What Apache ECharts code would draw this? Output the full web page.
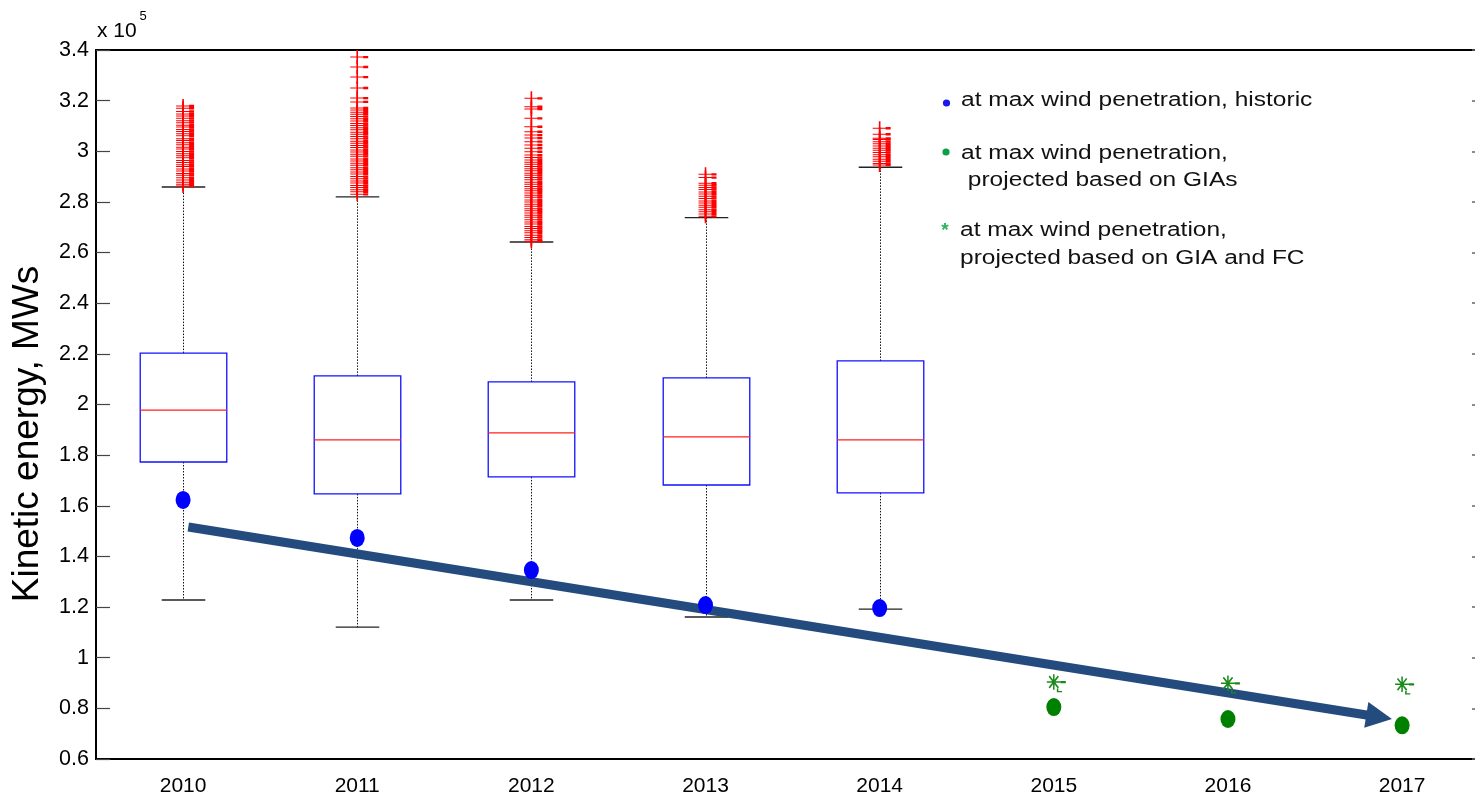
<!DOCTYPE html>
<html><head><meta charset="utf-8">
<script src="https://cdn.jsdelivr.net/npm/echarts@6/dist/echarts.min.js"></script>
<style>html,body{margin:0;padding:0;background:#fff}#chart{width:1475px;height:793px}</style>
</head><body><div id="chart"></div><script>
// ---- data (values in units of x10^5 MWs) ----
const years = [2010, 2011, 2012, 2013, 2014, 2015, 2016, 2017];
const yTicks = [0.6, 0.8, 1, 1.2, 1.4, 1.6, 1.8, 2, 2.2, 2.4, 2.6, 2.8, 3, 3.2, 3.4];

const boxYears  = [2010, 2011, 2012, 2013, 2014];
const boxMin    = [1.228, 1.121, 1.228, 1.161, 1.192];
const boxQ1     = [1.773, 1.647, 1.714, 1.682, 1.651];
const boxMedian = [1.978, 1.860, 1.888, 1.872, 1.860];
const boxQ3     = [2.203, 2.113, 2.089, 2.105, 2.172];
const boxMax    = [2.859, 2.820, 2.642, 2.738, 2.937];

const outliers2010 = [3.179, 3.170, 3.157, 3.147, 3.139, 3.130, 3.121, 3.113, 3.103, 3.096, 3.086, 3.078, 3.069, 3.061, 3.050, 3.043, 3.034, 3.026, 3.016, 3.009, 2.999, 2.990, 2.982, 2.974, 2.964, 2.956, 2.947, 2.940, 2.930, 2.922, 2.912, 2.905, 2.895, 2.887, 2.878, 2.870, 2.863];
const outliers2011 = [3.372, 3.333, 3.293, 3.250, 3.210, 3.195, 3.171, 3.163, 3.154, 3.146, 3.137, 3.128, 3.120, 3.110, 3.102, 3.093, 3.085, 3.075, 3.067, 3.058, 3.050, 3.040, 3.032, 3.023, 3.015, 3.005, 2.997, 2.988, 2.980, 2.970, 2.962, 2.953, 2.945, 2.935, 2.927, 2.918, 2.910, 2.900, 2.892, 2.883, 2.875, 2.865, 2.857, 2.848, 2.840, 2.830];
const outliers2012 = [3.209, 3.176, 3.167, 3.130, 3.097, 3.077, 3.064, 3.052, 3.038, 3.025, 3.012, 2.998, 2.985, 2.975, 2.966, 2.957, 2.949, 2.940, 2.931, 2.923, 2.913, 2.905, 2.896, 2.888, 2.878, 2.870, 2.861, 2.852, 2.844, 2.835, 2.826, 2.818, 2.808, 2.800, 2.791, 2.783, 2.773, 2.765, 2.756, 2.747, 2.739, 2.730, 2.721, 2.713, 2.703, 2.695, 2.686, 2.678, 2.668, 2.660, 2.651, 2.645];
const outliers2013 = [2.909, 2.896, 2.874, 2.866, 2.857, 2.849, 2.839, 2.831, 2.822, 2.814, 2.804, 2.796, 2.787, 2.779, 2.769, 2.761, 2.752, 2.743];
const outliers2014 = [3.091, 3.067, 3.051, 3.047, 3.038, 3.030, 3.021, 3.012, 3.004, 2.995, 2.986, 2.978, 2.969, 2.961, 2.952, 2.946];

const historicYears = [2010, 2011, 2012, 2013, 2014];
const historicValues = [1.623, 1.473, 1.346, 1.208, 1.196];
const projYears = [2015, 2016, 2017];
const projGIA = [0.805, 0.758, 0.733];
const projGIAFC = [0.904, 0.899, 0.895];

const arrowX = [2010.03, 2016.868];
const arrowY = [1.516, 0.766];

const legendTexts = [
  ['at max wind penetration, historic'],
  ['at max wind penetration,', ' projected based on GIAs'],
  ['at max wind penetration,', 'projected based on GIA and FC']
];
const yAxisTitle = 'Kinetic energy, MWs';

// ---- build ----
const FONT = '"Liberation Sans", Arial, Helvetica, sans-serif';
const boxData = boxYears.map((y, i) => [y, boxMin[i], boxQ1[i], boxMedian[i], boxQ3[i], boxMax[i]]);
const outlierSets = [outliers2010, outliers2011, outliers2012, outliers2013, outliers2014];
const outlierData = [];
outlierSets.forEach((arr, i) => arr.forEach(v => outlierData.push([boxYears[i], v])));

const plusPath = 'path://M0,6.5H14V7.5H0Z M6.2,0H7.8V14H6.2Z M13,5.8H18V8.2H13Z';
const starPath = 'path://M0,5.4H11V6.6H0Z M4.9,0H6.1V12H4.9Z M1.4,1.9L2.3,1.0L9.6,10.1L8.7,11.0Z M8.7,1.0L9.6,1.9L2.3,11.0L1.4,10.1Z M11,5.1H15V6.9H11Z M7.9,11H9.1V12.9H12V14H7.9Z';
const ellipsePath = 'path://M0,1a1,1 0 1,0 2,0a1,1 0 1,0 -2,0z';

function renderBox(params, api) {
  const x = api.value(0);
  const pMin = api.coord([x, api.value(1)]);
  const pQ1 = api.coord([x, api.value(2)]);
  const pMed = api.coord([x, api.value(3)]);
  const pQ3 = api.coord([x, api.value(4)]);
  const pMax = api.coord([x, api.value(5)]);
  const bw = api.size([0.497, 0])[0];
  const cw = api.size([0.25, 0])[0];
  const cx = Math.round(pMed[0]) + 0.5;
  const dotted = {stroke: '#111', lineWidth: 1, lineDash: [1.5, 1.5]};
  const cap = {stroke: '#222', lineWidth: 1.4};
  return {type: 'group', children: [
    {type: 'line', shape: {x1: cx, y1: pQ3[1], x2: cx, y2: pMax[1]}, style: dotted},
    {type: 'line', shape: {x1: cx, y1: pQ1[1], x2: cx, y2: pMin[1]}, style: dotted},
    {type: 'line', shape: {x1: cx - cw / 2, y1: pMax[1], x2: cx + cw / 2, y2: pMax[1]}, style: cap},
    {type: 'line', shape: {x1: cx - cw / 2, y1: pMin[1], x2: cx + cw / 2, y2: pMin[1]}, style: cap},
    {type: 'rect', shape: {x: cx - bw / 2, y: pQ3[1], width: bw, height: pQ1[1] - pQ3[1]},
      style: {fill: 'none', stroke: '#1010FF', lineWidth: 1.3}},
    {type: 'line', shape: {x1: cx - bw / 2, y1: pMed[1], x2: cx + bw / 2, y2: pMed[1]},
      style: {stroke: '#FF2020', lineWidth: 1.3}}
  ]};
}

const legendGraphics = [];
const legendLineY = [[100], [153, 180], [230, 258]];
const legendX = [961, 961, 960];
legendTexts.forEach((lines, i) => {
  lines.forEach((t, j) => {
    legendGraphics.push({type: 'text', x: legendX[i], y: legendLineY[i][j], scaleX: 1.225,
      style: {text: t, fontSize: 20, fontFamily: FONT, fill: '#111', verticalAlign: 'middle', align: 'left'}});
  });
});
legendGraphics.push({type: 'circle', shape: {cx: 946.5, cy: 103, r: 3.6}, style: {fill: '#1A1AE8'}});
legendGraphics.push({type: 'circle', shape: {cx: 946, cy: 152, r: 3.6}, style: {fill: '#0AA04A'}});
legendGraphics.push({type: 'text', x: 945, y: 231, style: {text: '*', fontSize: 19, fontWeight: 'bold', fontFamily: FONT, fill: '#2DB35A', align: 'center', verticalAlign: 'middle'}});

const option = {
  animation: false,
  backgroundColor: '#fff',
  grid: {left: 96, top: 50, right: -2, bottom: 34, outerBoundsMode: 'none', containLabel: false,
    show: true, borderColor: '#000', borderWidth: 1.8, backgroundColor: 'transparent'},
  xAxis: {
    type: 'value', min: 2009.5, max: 2017.43,
    axisLine: {show: true, lineStyle: {color: '#000', width: 1.8}},
    axisTick: {show: false},
    splitLine: {show: false},
    axisLabel: {customValues: years, formatter: v => String(v), fontSize: 21, fontFamily: FONT, color: '#000', margin: 17}
  },
  yAxis: [{
    type: 'value', min: 0.6, max: 3.4, interval: 0.2,
    axisLine: {show: true, lineStyle: {color: '#000', width: 1.8}},
    axisTick: {show: true, inside: true, length: 14, lineStyle: {color: '#444', width: 1.2}},
    splitLine: {show: false},
    axisLabel: {fontSize: 21.5, fontFamily: FONT, color: '#000', margin: 7}
  }, {
    type: 'value', min: 0.6, max: 3.4, interval: 0.2, position: 'right',
    axisLine: {show: false},
    axisTick: {show: true, inside: true, length: 5, lineStyle: {color: '#666', width: 1.5}},
    splitLine: {show: false},
    axisLabel: {show: false}
  }],
  graphic: [
    {type: 'text', x: 28, y: 434, rotation: Math.PI / 2,
      style: {text: yAxisTitle, fontSize: 37, fontFamily: FONT, fill: '#000', align: 'center', verticalAlign: 'middle'}},
    {type: 'text', x: 97, y: 31, style: {text: 'x 10', fontSize: 21, fontFamily: FONT, fill: '#000', verticalAlign: 'middle'}},
    {type: 'text', x: 139.5, y: 16.5, style: {text: '5', fontSize: 13, fontFamily: FONT, fill: '#000', verticalAlign: 'middle'}}
  ].concat(legendGraphics),
  series: [
    {type: 'custom', name: 'Kinetic energy distribution', renderItem: renderBox, data: boxData,
      encode: {x: 0, y: [1, 2, 3, 4, 5]}, z: 2, clip: false},
    {type: 'scatter', name: 'Outliers', data: outlierData, symbol: plusPath, symbolSize: [18, 14],
      symbolOffset: [2, 0], itemStyle: {color: '#FF0000', opacity: 1}, z: 3, clip: false},
    {type: 'lines', coordinateSystem: 'cartesian2d', name: 'Trend', z: 4,
      symbol: ['none', 'triangle'], symbolSize: [25, 26],
      lineStyle: {color: '#244B7D', width: 9, opacity: 1},
      data: [{coords: [[arrowX[0], arrowY[0]], [arrowX[1], arrowY[1]]]}]},
    {type: 'scatter', name: 'at max wind penetration, historic',
      data: historicYears.map((y, i) => [y, historicValues[i]]),
      symbol: ellipsePath, symbolSize: [15, 18], itemStyle: {color: '#0000FF', opacity: 1}, z: 5},
    {type: 'scatter', name: 'at max wind penetration, projected based on GIAs',
      data: projYears.map((y, i) => [y, projGIA[i]]),
      symbol: ellipsePath, symbolSize: [15, 18], itemStyle: {color: '#008000', opacity: 1}, z: 5},
    {type: 'scatter', name: 'at max wind penetration, projected based on GIA and FC',
      data: projYears.map((y, i) => [y, projGIAFC[i]]),
      symbol: starPath, symbolSize: [19, 18], symbolOffset: [2.5, 1.3], itemStyle: {color: '#1A8A1A', opacity: 1}, z: 5}
  ]
};
const chart = echarts.init(document.getElementById('chart'), null, {renderer: 'canvas'});
chart.setOption(option);
</script></body></html>
